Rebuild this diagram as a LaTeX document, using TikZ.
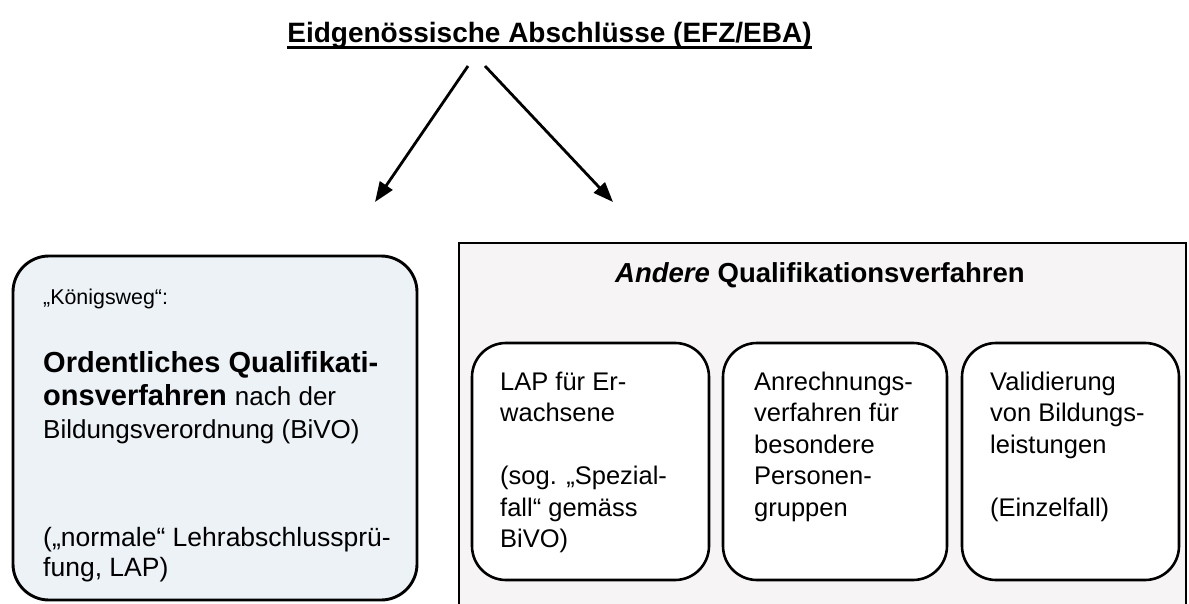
\documentclass[tikz,border=0pt]{standalone}
\usepackage{fontspec}
\setmainfont{Liberation Sans}
\usetikzlibrary{arrows.meta}
\definecolor{lboxfill}{HTML}{EDF2F7}
\definecolor{rboxfill}{HTML}{F7F4F6}
\begin{document}
\begin{tikzpicture}[x=1pt,y=-1pt,
  lbox/.style={draw=black, line width=2.9pt, fill=lboxfill, rounded corners=36pt, inner sep=0pt, outer sep=0pt},
  rbox/.style={draw=black, line width=2.7pt, fill=rboxfill, inner sep=0pt, outer sep=0pt},
  ibox/.style={draw=black, line width=2.6pt, fill=white, rounded corners=34pt, inner sep=0pt, outer sep=0pt,
               minimum height=237pt},
  txt/.style={anchor=base west, inner sep=0pt},
  blk/.style={anchor=north west, inner sep=0pt, align=left, font=\fontsize{25.5}{31.5}\selectfont},
  arr/.style={line width=2.8pt, -{Triangle[length=20pt,width=15pt]}}
]
\useasboundingbox (0,0) rectangle (1189,604);
\clip (0,0) rectangle (1189,604);

% title
\node[anchor=base, inner sep=0pt, font=\fontsize{28}{34}\selectfont\bfseries] (title) at (549.5,43)
  {Eidgenössische Abschlüsse (EFZ/EBA)};
\draw[line width=2.2pt] ([yshift=-4.5pt]title.base west) -- ([yshift=-4.5pt]title.base east);

% arrows
\coordinate (a1s) at (468,66);
\coordinate (a1e) at (375,202);
\coordinate (a2s) at (485,66);
\coordinate (a2e) at (613,202);
\draw[arr] (a1s) -- (a1e);
\draw[arr] (a2s) -- (a2e);

% left box
\node[lbox, minimum width=404pt, minimum height=344pt] (left) at (215,428) {};
\node[txt, font=\fontsize{21.4}{26}\selectfont] (kw) at (43,305) {„Königsweg“:};
\node[txt, font=\fontsize{29}{33}\selectfont\bfseries] (o1) at (43,372) {Ordentliches Qualifikati-};
\node[txt, font=\fontsize{29}{33}\selectfont] (o2) at (43,405) {\textbf{onsverfahren} {\fontsize{26}{33}\selectfont nach der}};
\node[txt, font=\fontsize{26}{33}\selectfont] (o3) at (43,438) {Bildungsverordnung (BiVO)};
\node[txt, font=\fontsize{26.5}{30}\selectfont] (n1) at (43,546) {(„normale“ Lehrabschlussprü-};
\node[txt, font=\fontsize{26.5}{30}\selectfont] (n2) at (43,576) {fung, LAP)};

% right box
\node[rbox, minimum width=727pt, minimum height=367pt] (right) at (822.5,426.5) {};
\node[anchor=base, inner sep=0pt, font=\fontsize{27.5}{33}\selectfont\bfseries] (andere) at (820,282)
  {\textit{Andere} Qualifikationsverfahren};

% inner boxes
\node[ibox, minimum width=237pt] (b1) at (590.5,461.5) {};
\node[ibox, minimum width=224pt] (b2) at (835,461.5) {};
\node[ibox, minimum width=217pt] (b3) at (1070.5,461.5) {};

\node[blk] (t1) at (500,368) {\strut LAP für Er-\\wachsene\\[31.5pt](sog. „Spezial-\\fall“ gemäss\\BiVO)};
\node[blk] (t2) at (754,368) {\strut Anrechnungs-\\verfahren für\\besondere\\Personen-\\gruppen};
\node[blk] (t3) at (990,368) {\strut Validierung\\von Bildungs-\\leistungen\\[31.5pt](Einzelfall)};
\end{tikzpicture}
\end{document}
